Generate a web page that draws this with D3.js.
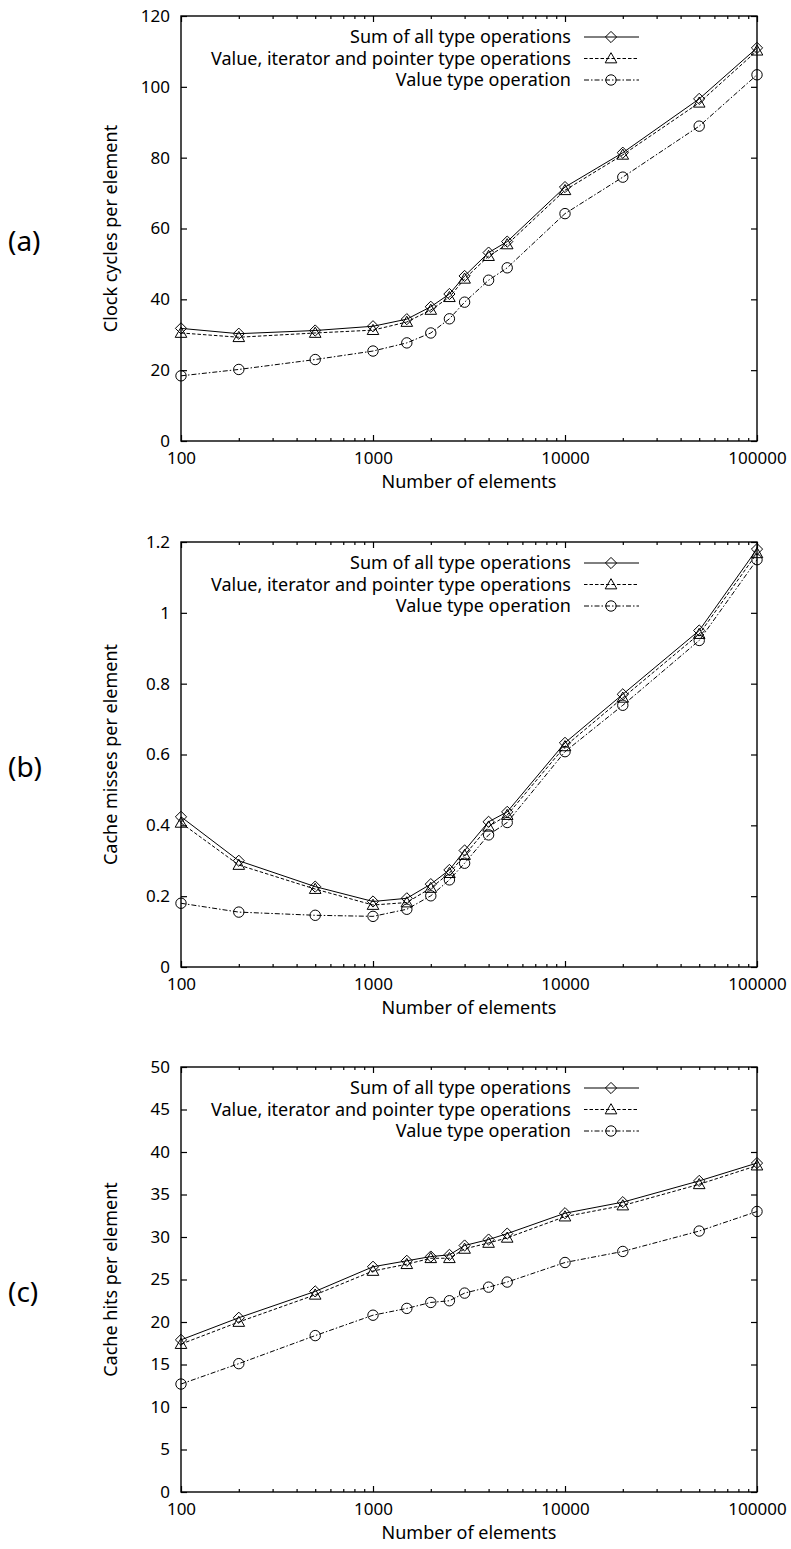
<!DOCTYPE html>
<html>
<head>
<meta charset="utf-8">
<script src="https://cdn.jsdelivr.net/npm/d3@7"></script>
<style>
  html, body { margin: 0; padding: 0; background: #fff; }
  svg { display: block; }
  .tick text { font-family: "Noto Sans", "DejaVu Sans", sans-serif; font-size: 17px; fill: #000; }
  .lbl { font-family: "Noto Sans", "DejaVu Sans", sans-serif; fill: #000; }
</style>
</head>
<body>
<svg id="chart" width="791" height="1549"></svg>
<script>
// Problem sizes (number of elements)
const sizes = [100, 200, 500, 1000, 1500, 2000, 2500, 3000, 4000, 5000, 10000, 20000, 50000, 100000];

// Series names
const seriesNames = [
  "Sum of all type operations",
  "Value, iterator and pointer type operations",
  "Value type operation"
];

// (a) clock cycles per element
const cyclesSum   = [31.8, 30.3, 31.2, 32.4, 34.4, 37.9, 41.5, 46.6, 53.2, 56.3, 71.7, 81.4, 96.6, 111.0];
const cyclesVip   = [30.5, 29.3, 30.5, 31.3, 33.6, 37.0, 40.6, 45.8, 52.2, 55.5, 70.8, 80.8, 95.5, 110.2];
const cyclesValue = [18.4, 20.2, 23.0, 25.4, 27.7, 30.5, 34.5, 39.2, 45.4, 48.9, 64.2, 74.5, 88.9, 103.4];

// (b) cache misses per element
const missesSum   = [0.424, 0.300, 0.227, 0.185, 0.194, 0.234, 0.274, 0.329, 0.410, 0.438, 0.633, 0.770, 0.950, 1.180];
const missesVip   = [0.407, 0.288, 0.220, 0.175, 0.182, 0.223, 0.265, 0.316, 0.396, 0.429, 0.623, 0.760, 0.940, 1.168];
const missesValue = [0.180, 0.155, 0.146, 0.143, 0.163, 0.201, 0.246, 0.293, 0.373, 0.408, 0.608, 0.739, 0.922, 1.150];

// (c) cache hits per element
const hitsSum   = [17.9, 20.5, 23.6, 26.5, 27.2, 27.7, 27.9, 29.0, 29.7, 30.4, 32.8, 34.1, 36.6, 38.7];
const hitsVip   = [17.4, 20.0, 23.2, 26.0, 26.8, 27.5, 27.5, 28.6, 29.3, 29.9, 32.4, 33.7, 36.2, 38.4];
const hitsValue = [12.7, 15.1, 18.4, 20.8, 21.6, 22.3, 22.5, 23.4, 24.1, 24.7, 27.0, 28.3, 30.7, 33.0];

// Axis ticks
const xTicks = [100, 1000, 10000, 100000];
const yTicksCycles = [0, 20, 40, 60, 80, 100, 120];
const yTicksMisses = [0, 0.2, 0.4, 0.6, 0.8, 1, 1.2];
const yTicksHits = [0, 5, 10, 15, 20, 25, 30, 35, 40, 45, 50];

const panels = [
  { tag: "(a)", title: "Clock cycles per element", top: 16, ticks: yTicksCycles,
    series: [cyclesSum, cyclesVip, cyclesValue] },
  { tag: "(b)", title: "Cache misses per element", top: 542, ticks: yTicksMisses,
    series: [missesSum, missesVip, missesValue] },
  { tag: "(c)", title: "Cache hits per element", top: 1067, ticks: yTicksHits,
    series: [hitsSum, hitsVip, hitsValue] }
];

// Line style and point symbol per series
const styles = [
  { dash: null,            symbol: "diamond" },
  { dash: "3.5,2",         symbol: "triangle" },
  { dash: "5,2,1.5,2",     symbol: "circle" }
];

const svg = d3.select("#chart");
const left = 181, right = 757, plotH = 425;

const x = d3.scaleLog().domain([100, 100000]).range([left, right]);

// minor ticks 2..9 within each decade
const minorTicks = [];
for (let d = 100; d < 100000; d *= 10) {
  for (let k = 2; k <= 9; k++) minorTicks.push(d * k);
}

function marker(g, kind, cx, cy) {
  if (kind === "diamond") {
    const r = 5.6;
    g.append("path")
      .attr("d", `M${cx},${cy - r}L${cx + r},${cy}L${cx},${cy + r}L${cx - r},${cy}Z`)
      .attr("fill", "none").attr("stroke", "#000").attr("stroke-width", 1);
  } else if (kind === "triangle") {
    const r = 5.8;
    g.append("path")
      .attr("d", `M${cx},${cy - r}L${cx + r},${cy + r * 0.75}L${cx - r},${cy + r * 0.75}Z`)
      .attr("fill", "none").attr("stroke", "#000").attr("stroke-width", 1);
  } else {
    g.append("circle").attr("cx", cx).attr("cy", cy).attr("r", 5.2)
      .attr("fill", "none").attr("stroke", "#000").attr("stroke-width", 1);
  }
}

panels.forEach(p => {
  const top = p.top, bottom = top + plotH;
  const yMax = p.ticks[p.ticks.length - 1];
  const y = d3.scaleLinear().domain([0, yMax]).range([bottom, top]);
  const g = svg.append("g");

  // major / minor ticks on all four sides, pointing inward
  const fmt = d => String(d);
  g.append("g").attr("transform", `translate(0,${bottom})`)
    .call(d3.axisBottom(x).tickValues(xTicks).tickFormat(fmt).tickSize(-6).tickSizeOuter(0).tickPadding(9))
    .call(a => a.select(".domain").remove())
    .call(a => a.selectAll("text").attr("dy", "0.85em"));
  g.append("g").attr("transform", `translate(0,${bottom})`)
    .call(d3.axisBottom(x).tickValues(minorTicks).tickFormat("").tickSize(-3).tickSizeOuter(0))
    .call(a => a.select(".domain").remove());
  g.append("g").attr("transform", `translate(0,${top})`)
    .call(d3.axisTop(x).tickValues(xTicks).tickFormat("").tickSize(-6).tickSizeOuter(0))
    .call(a => a.select(".domain").remove());
  g.append("g").attr("transform", `translate(0,${top})`)
    .call(d3.axisTop(x).tickValues(minorTicks).tickFormat("").tickSize(-3).tickSizeOuter(0))
    .call(a => a.select(".domain").remove());
  g.append("g").attr("transform", `translate(${left},0)`)
    .call(d3.axisLeft(y).tickValues(p.ticks).tickFormat(fmt).tickSize(-6).tickSizeOuter(0).tickPadding(11))
    .call(a => a.select(".domain").remove());
  g.append("g").attr("transform", `translate(${right},0)`)
    .call(d3.axisRight(y).tickValues(p.ticks).tickFormat("").tickSize(-6).tickSizeOuter(0))
    .call(a => a.select(".domain").remove());
  g.selectAll(".tick line").attr("stroke", "#000").attr("stroke-width", 1.2);

  // frame
  g.append("rect").attr("x", left).attr("y", top).attr("width", right - left).attr("height", plotH)
    .attr("fill", "none").attr("stroke", "#000").attr("stroke-width", 1.4);

  // titles
  g.append("text").attr("class", "lbl").attr("font-size", 18)
    .attr("x", (left + right) / 2).attr("y", bottom + 47)
    .attr("text-anchor", "middle").text("Number of elements");
  g.append("text").attr("class", "lbl").attr("font-size", 18)
    .attr("transform", `translate(117,${(top + bottom) / 2}) rotate(-90)`)
    .attr("text-anchor", "middle").text(p.title);
  g.append("text").attr("class", "lbl").attr("font-size", 28)
    .attr("x", 8).attr("y", (top + bottom) / 2 + 22).text(p.tag);

  // series
  const line = d3.line().x((d, i) => x(sizes[i])).y(d => y(d));
  p.series.forEach((vals, si) => {
    const st = styles[si];
    g.append("path").datum(vals).attr("d", line)
      .attr("fill", "none").attr("stroke", "#000").attr("stroke-width", 1)
      .attr("stroke-dasharray", st.dash);
    vals.forEach((v, i) => marker(g, st.symbol, x(sizes[i]), y(v)));
  });

  // legend
  seriesNames.forEach((name, si) => {
    const ry = top + 21 + si * 21.5;
    g.append("text").attr("class", "lbl").attr("font-size", 18)
      .attr("x", 571).attr("y", ry).attr("dy", "0.34em")
      .attr("text-anchor", "end").text(name);
    g.append("line").attr("x1", 584).attr("x2", 639).attr("y1", ry).attr("y2", ry)
      .attr("stroke", "#000").attr("stroke-width", 1)
      .attr("stroke-dasharray", styles[si].dash);
    marker(g, styles[si].symbol, 611, ry);
  });
});
</script>
</body>
</html>
